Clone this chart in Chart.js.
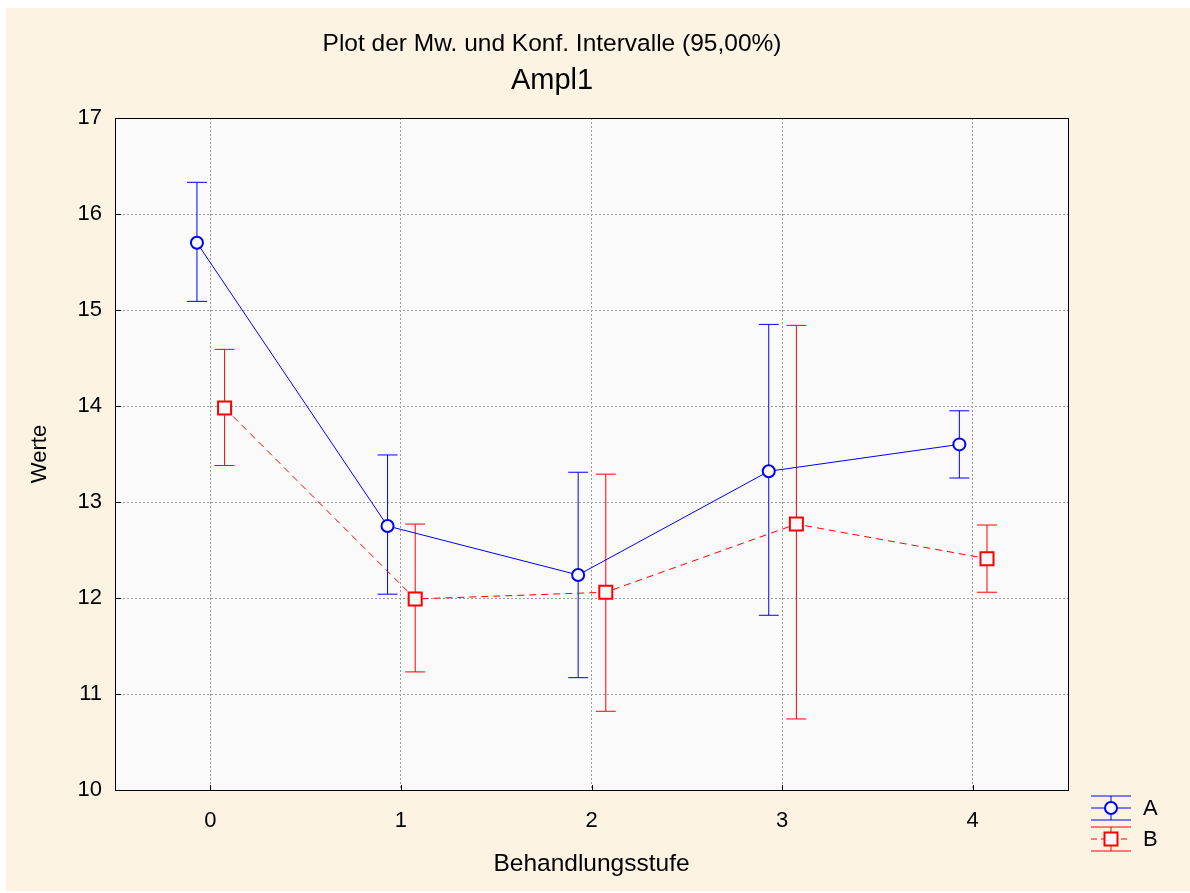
<!DOCTYPE html>
<html><head><meta charset="utf-8">
<script src="https://cdn.jsdelivr.net/npm/chart.js@4/dist/chart.umd.min.js"></script>
<style>html,body{margin:0;padding:0;background:#fff;}canvas{display:block;}</style>
</head><body>
<canvas id="c" width="1190" height="893"></canvas>
<script>
// ---- data ----
const categories = [0, 1, 2, 3, 4];
const seriesNames = ['A', 'B'];
const meanA  = [15.70, 12.75, 12.24, 13.32, 13.60];
const upperA = [16.33, 13.49, 13.31, 14.85, 13.95];
const lowerA = [15.09, 12.04, 11.17, 11.82, 13.25];
const meanB  = [13.98, 11.99, 12.06, 12.77, 12.41];
const upperB = [14.59, 12.77, 13.29, 14.84, 12.76];
const lowerB = [13.38, 11.23, 10.82, 10.74, 12.06];
const yTickValues = [10, 11, 12, 13, 14, 15, 16, 17];
const titleLine1 = 'Plot der Mw. und Konf. Intervalle (95,00%)';
const titleLine2 = 'Ampl1';
const xAxisTitle = 'Behandlungsstufe';
const yAxisTitle = 'Werte';

// ---- style ----
const FONT = '"Liberation Sans", Arial, Helvetica, sans-serif';
const BLUE = '#0000ff', RED = '#ff0000';
const CREAM = '#fcf3e3', PLOTBG = '#fafafa';
const OFFSET_A = -0.07, OFFSET_B = 0.075;
const CAP = 10;

const series = [
  {name: seriesNames[0], mean: meanA, upper: upperA, lower: lowerA, off: OFFSET_A, color: BLUE, shape: 'circle', dash: []},
  {name: seriesNames[1], mean: meanB, upper: upperB, lower: lowerB, off: OFFSET_B, color: RED, shape: 'rect', dash: [7, 5]}
];

function line(ctx, x1, y1, x2, y2) { ctx.beginPath(); ctx.moveTo(x1, y1); ctx.lineTo(x2, y2); ctx.stroke(); }
function marker(ctx, shape, x, y, color) {
  ctx.save(); ctx.setLineDash([]); ctx.lineWidth = 2; ctx.strokeStyle = color; ctx.fillStyle = PLOTBG;
  ctx.beginPath();
  if (shape === 'circle') ctx.arc(x, y, 6, 0, Math.PI * 2);
  else ctx.rect(x - 6.5, y - 6.5, 13, 13);
  ctx.fill(); ctx.stroke(); ctx.restore();
}

const decor = {
  id: 'decor',
  beforeDraw(chart) {
    const ctx = chart.ctx, a = chart.chartArea;
    ctx.save();
    ctx.fillStyle = '#ffffff'; ctx.fillRect(0, 0, chart.width, chart.height);
    ctx.fillStyle = CREAM; ctx.fillRect(6, 8, chart.width - 6, chart.height - 10);
    ctx.fillStyle = PLOTBG; ctx.fillRect(a.left, a.top, a.right - a.left, a.bottom - a.top);
    ctx.restore();
  },
  beforeDatasetsDraw(chart) {
    const ctx = chart.ctx, xs = chart.scales.x, ys = chart.scales.y;
    ctx.save(); ctx.lineWidth = 1; ctx.setLineDash([]);
    series.forEach(s => {
      ctx.strokeStyle = s.color;
      categories.forEach((c, i) => {
        const x = xs.getPixelForValue(c + s.off);
        const yt = ys.getPixelForValue(s.upper[i]);
        const yb = ys.getPixelForValue(s.lower[i]);
        line(ctx, x, yt, x, yb);
        line(ctx, x - CAP, yt, x + CAP, yt);
        line(ctx, x - CAP, yb, x + CAP, yb);
      });
    });
    ctx.restore();
  },
  afterDraw(chart) {
    const ctx = chart.ctx, a = chart.chartArea, xs = chart.scales.x, ys = chart.scales.y;
    ctx.save();
    // frame
    ctx.strokeStyle = '#000'; ctx.lineWidth = 1; ctx.setLineDash([]);
    ctx.strokeRect(Math.round(a.left) + 0.5, Math.round(a.top) + 0.5, Math.round(a.right - a.left), Math.round(a.bottom - a.top));
    // inside tick marks
    yTickValues.forEach(v => { const y = Math.round(ys.getPixelForValue(v)) + 0.5; line(ctx, a.left, y, a.left + 6, y); });
    categories.forEach(v => { const x = Math.round(xs.getPixelForValue(v)) + 0.5; line(ctx, x, a.bottom, x, a.bottom - 5); });
    // titles
    ctx.fillStyle = '#000'; ctx.textAlign = 'center'; ctx.textBaseline = 'middle';
    ctx.font = '24.5px ' + FONT; ctx.fillText(titleLine1, 552, 44);
    ctx.font = '29px ' + FONT; ctx.fillText(titleLine2, 552, 81);
    // legend
    const lx0 = 1091, lx1 = 1131, lxc = 1111;
    const rows = [808, 839];
    series.forEach((s, k) => {
      const ym = rows[k];
      ctx.strokeStyle = s.color; ctx.lineWidth = 1; ctx.setLineDash([]);
      line(ctx, lx0, ym - 12, lx1, ym - 12);
      line(ctx, lx0, ym + 12, lx1, ym + 12);
      line(ctx, lxc, ym - 12, lxc, ym + 12);
      ctx.setLineDash(s.dash.length ? [6, 4] : []);
      line(ctx, lx0, ym, lx1, ym);
      ctx.setLineDash([]);
      marker(ctx, s.shape, lxc, ym, s.color);
      ctx.fillStyle = '#000'; ctx.textAlign = 'left'; ctx.font = '22px ' + FONT;
      ctx.fillText(s.name, 1143, rows[k] + 1);
    });
    ctx.restore();
  }
};

new Chart(document.getElementById('c'), {
  type: 'scatter',
  data: {
    datasets: series.map(s => ({
      label: s.name,
      data: categories.map((c, i) => ({x: c + s.off, y: s.mean[i]})),
      showLine: true,
      borderColor: s.color,
      borderWidth: 1,
      borderDash: s.dash,
      pointStyle: s.shape,
      pointRadius: s.shape === 'circle' ? 6 : 9.2,
      pointBorderWidth: 2,
      pointBorderColor: s.color,
      pointBackgroundColor: PLOTBG,
      pointHoverRadius: 6
    }))
  },
  options: {
    responsive: false,
    animation: false,
    events: [],
    layout: {padding: {top: 118, right: 122, left: 0, bottom: 0}},
    plugins: {legend: {display: false}, tooltip: {enabled: false}, title: {display: false}},
    scales: {
      x: {
        type: 'linear', min: -0.5, max: 4.5,
        afterBuildTicks: s => { s.ticks = categories.map(v => ({value: v})); },
        afterFit: s => { s.height = 103; },
        grid: {color: '#9a9a9a', lineWidth: 1, drawTicks: false},
        border: {display: false, dash: [2, 2]},
        ticks: {color: '#000', font: {family: FONT, size: 22}, padding: 18, callback: v => String(v)},
        title: {display: true, text: xAxisTitle, color: '#000', font: {family: FONT, size: 24.5}, padding: {top: 0, bottom: 14}}
      },
      y: {
        type: 'linear', min: 10, max: 17,
        afterBuildTicks: s => { s.ticks = yTickValues.map(v => ({value: v})); },
        afterFit: s => { s.width = 115; },
        grid: {color: '#9a9a9a', lineWidth: 1, drawTicks: false},
        border: {display: false, dash: [2, 2]},
        ticks: {color: '#000', font: {family: FONT, size: 22}, padding: 13, callback: v => String(v)},
        title: {display: true, text: yAxisTitle, color: '#000', font: {family: FONT, size: 22}, padding: {top: 27, bottom: 0}}
      }
    }
  },
  plugins: [decor]
});
</script>
</body></html>
